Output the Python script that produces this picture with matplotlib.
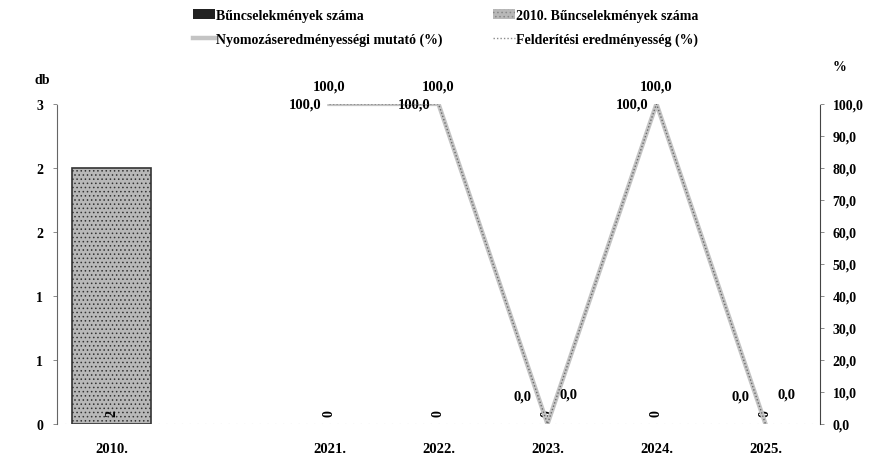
import numpy as np
import matplotlib.pyplot as plt
from matplotlib.lines import Line2D
from matplotlib.patches import Patch

plt.rcParams['font.family'] = ['Liberation Serif', 'DejaVu Serif']
plt.rcParams['font.weight'] = 'bold'
plt.rcParams['hatch.color'] = '#555555'
plt.rcParams['hatch.linewidth'] = 0.6

# data
years = ['2010.', '', '2021.', '2022.', '2023.', '2024.', '2025.']
crimes_2010 = [2, np.nan, np.nan, np.nan, np.nan, np.nan, np.nan]
crimes = [np.nan, np.nan, 0, 0, 0, 0, 0]
nyomozas = [np.nan, np.nan, 100.0, 100.0, 0.0, 100.0, 0.0]
felderites = [np.nan, np.nan, 100.0, 100.0, 0.0, 100.0, 0.0]

left_ticks = [0, 0.5, 1, 1.5, 2, 2.5]
left_labels = ['0', '1', '1', '2', '2', '3']
right_ticks = np.arange(0, 101, 10)

x = np.arange(len(years))

fig = plt.figure(figsize=(8.74, 4.56), dpi=100)
ax = fig.add_axes([0.0652, 0.068, 0.873, 0.702])
ax2 = ax.twinx()

# bars
ax.bar(x, crimes, width=0.72, color='#222222')
ax.bar(x, crimes_2010, width=0.72, facecolor='#b8b8b8', edgecolor='#333333',
       linewidth=1.2, hatch='....')
for xi, v in zip(x, crimes):
    if not np.isnan(v):
        ax.text(xi, 0.06, f'{v:.0f}', rotation=90, ha='center', va='bottom', fontsize=10)
for xi, v in zip(x, crimes_2010):
    if not np.isnan(v):
        ax.text(xi, 0.06, f'{v:.0f}', rotation=90, ha='center', va='bottom', fontsize=10)

ax.set_xlim(-0.5, len(years) - 0.5)
ax.set_ylim(0, 2.5)
ax.set_yticks(left_ticks)
ax.set_yticklabels(left_labels)
ax.set_xticks(x)
ax.set_xticklabels(years)

# lines
ax2.plot(x, nyomozas, color='#c4c4c4', lw=3.2, zorder=3)
ax2.plot(x, felderites, color='#6a6a6a', lw=1.0, ls=(0, (1, 1.5)), zorder=4)
ax2.set_ylim(0, 100)
ax2.set_yticks(right_ticks)
ax2.set_yticklabels([f'{t:.1f}'.replace('.', ',') for t in right_ticks])

# data labels
for xi, v in zip(x, nyomozas):
    if np.isnan(v):
        continue
    off = (-8, 0) if v > 50 else (-16, 28)
    ax2.annotate(f'{v:.1f}'.replace('.', ','), (xi, v), xytext=off,
                 textcoords='offset pixels', ha='right', va='center', fontsize=10.5)
for xi, v in zip(x, felderites):
    if np.isnan(v):
        continue
    if v > 50:
        off, ha = (0, 18), 'center'
    else:
        off, ha = (12, 30), 'left'
    ax2.annotate(f'{v:.1f}'.replace('.', ','), (xi, v), xytext=off,
                 textcoords='offset pixels', ha=ha, va='center', fontsize=10.5)

# axes styling
for a in (ax, ax2):
    a.spines['top'].set_visible(False)
    a.spines['bottom'].set_visible(False)
    a.tick_params(axis='y', length=3, width=0.6, color='#777777', labelsize=10)
ax.tick_params(axis='y', pad=7)
ax2.tick_params(axis='y', pad=6)
ax.spines['right'].set_visible(False)
ax2.spines['left'].set_visible(False)
ax.spines['left'].set_linestyle((0, (2, 1)))
ax.spines['left'].set_color('#666666')
ax2.spines['right'].set_linestyle((0, (2, 1)))
ax2.spines['right'].set_color('#444444')
ax.tick_params(axis='x', length=0, labelsize=10.5, pad=13)
ax.axhline(0, color='#999999', lw=0.8, ls=(0, (1, 6)))

fig.text(0.048, 0.815, 'db', fontsize=10, ha='center')
fig.text(0.961, 0.845, '%', fontsize=10, ha='center')

handles = [Patch(facecolor='#222222'),
           Line2D([], [], color='#c4c4c4', lw=3.2),
           Patch(facecolor='#b8b8b8', hatch='....', edgecolor='#888888', linewidth=0),
           Line2D([], [], color='#8a8a8a', lw=1.0, ls=(0, (1, 1.5)))]
labels = ['Bűncselekmények száma', 'Nyomozáseredményességi mutató (%)',
          '2010. Bűncselekmények száma', 'Felderítési eredményesség (%)']
fig.legend(handles, labels, ncol=2, loc='upper center', bbox_to_anchor=(0.51, 1.005),
           frameon=False, fontsize=10, handlelength=1.6, handletextpad=0.1,
           columnspacing=3.6, labelspacing=0.75)

fig.savefig('out.png', dpi=100)
